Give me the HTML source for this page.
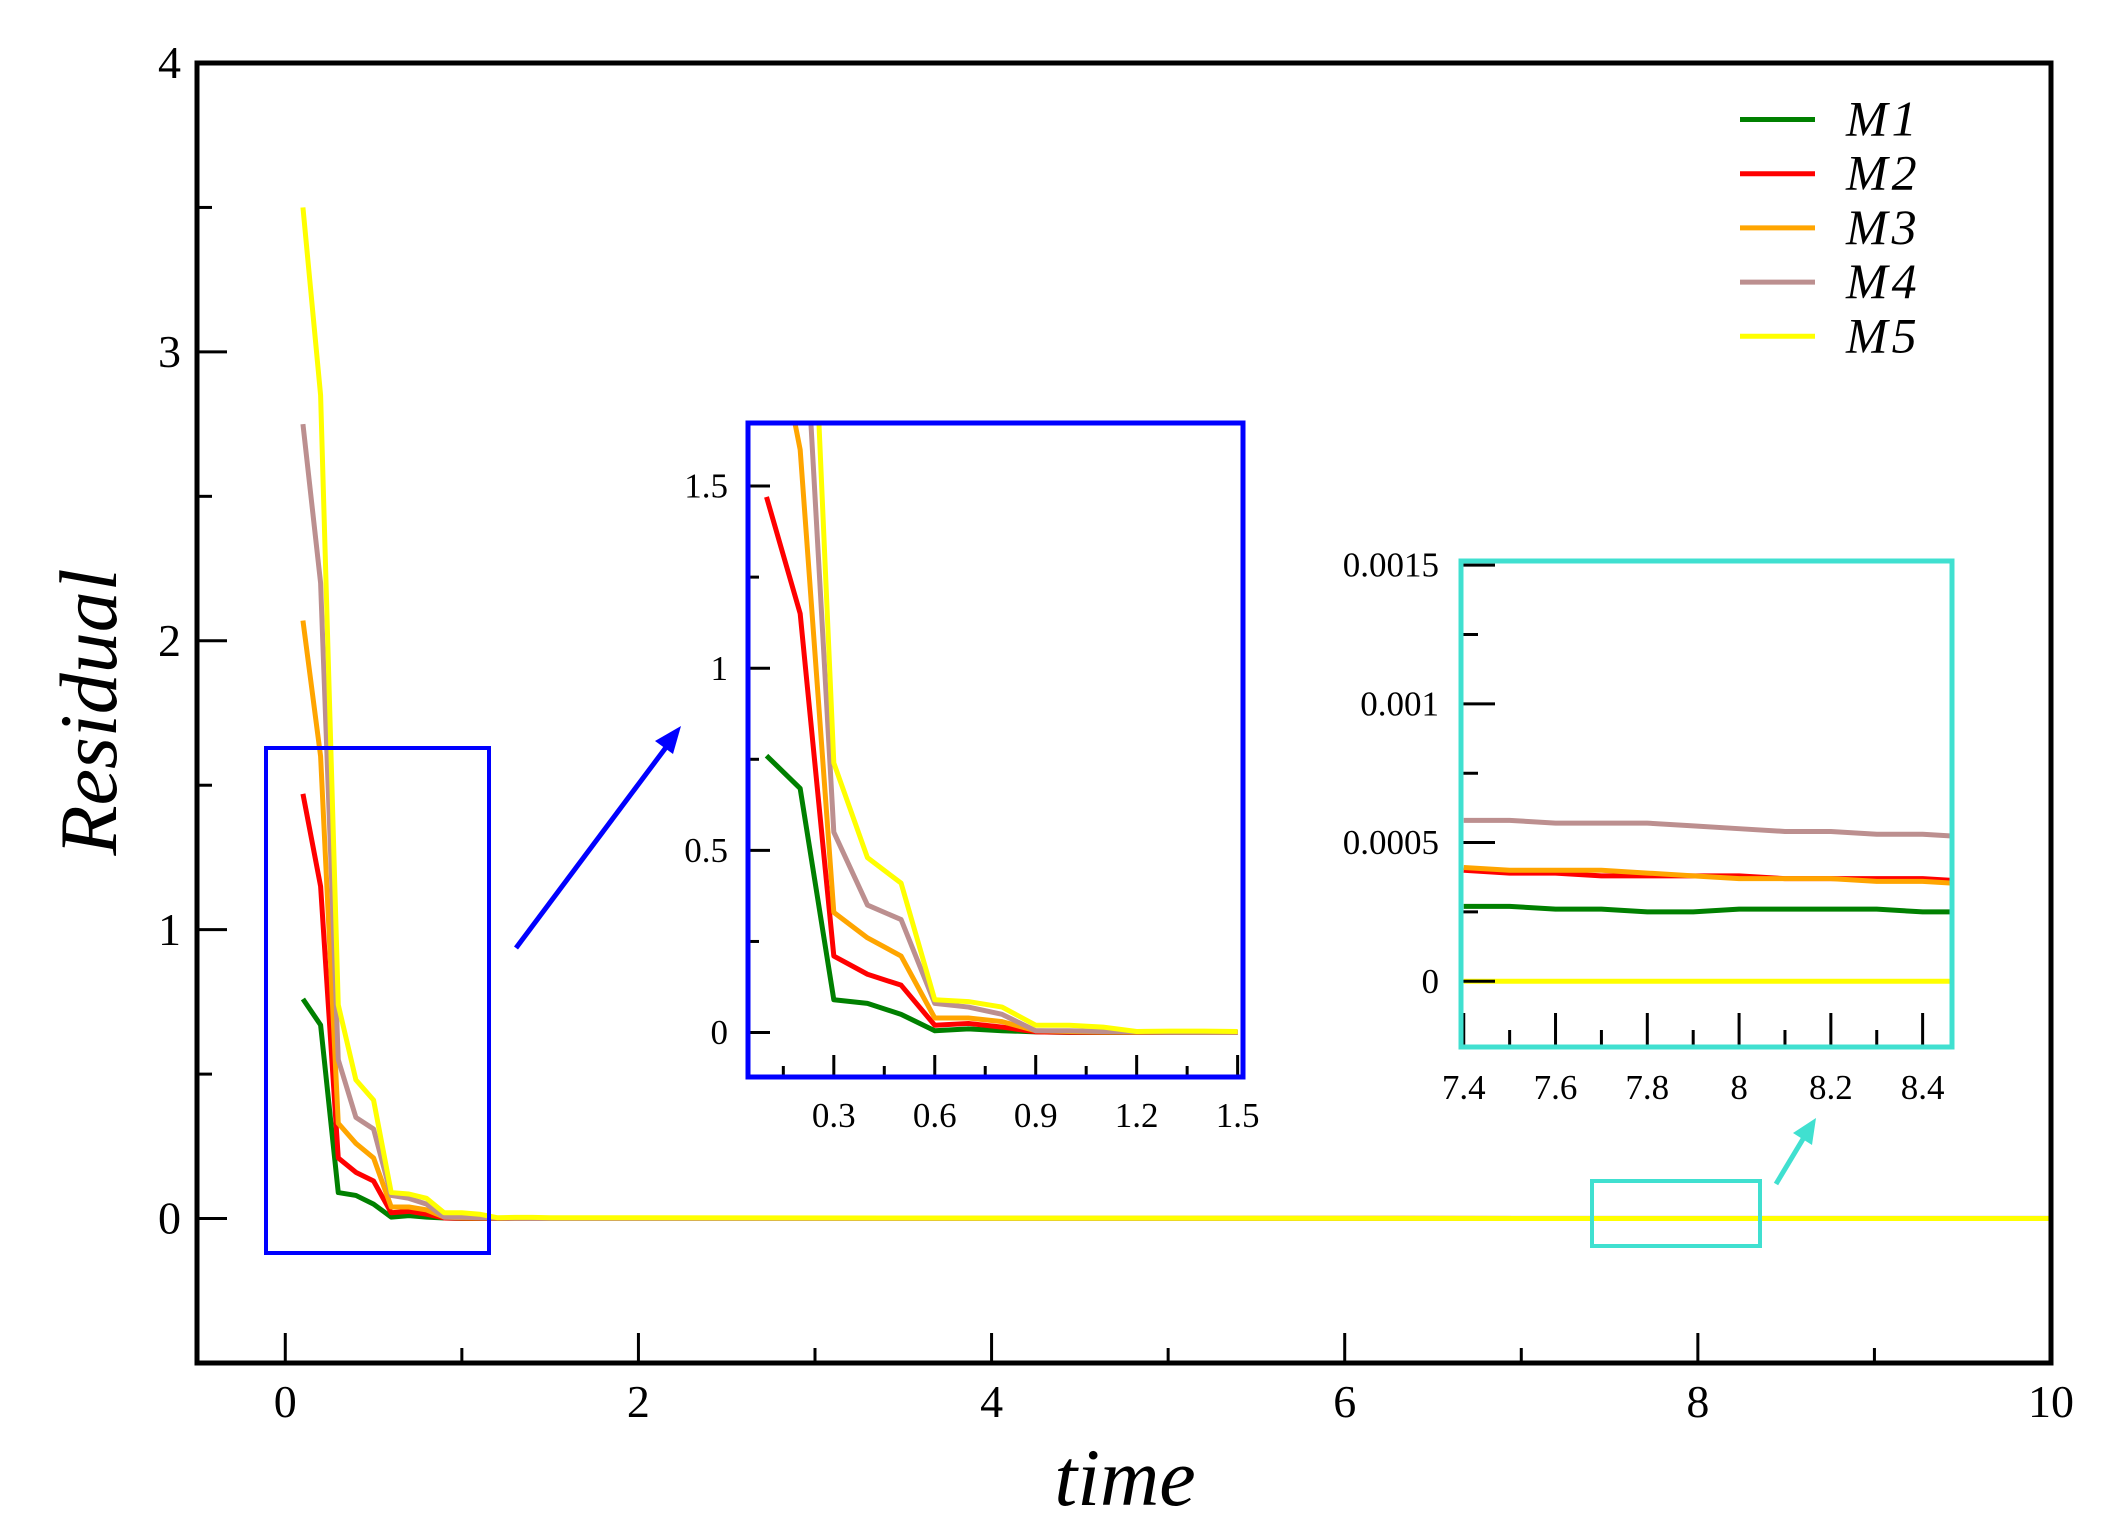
<!DOCTYPE html>
<html><head><meta charset="utf-8"><style>
html,body{margin:0;padding:0;background:#fff;}
svg{display:block;font-family:"Liberation Serif",serif;}
</style></head><body>
<svg id="chart" width="2104" height="1528" viewBox="0 0 2104 1528" xmlns="http://www.w3.org/2000/svg">
<defs>
<clipPath id="clipMain"><rect x="197" y="63" width="1854" height="1300"/></clipPath>
<clipPath id="clipIn1"><rect x="748" y="423" width="495" height="654"/></clipPath>
<clipPath id="clipIn2"><rect x="1461" y="561" width="491" height="486"/></clipPath>
</defs>
</svg>
<script>
// ---- data ----
const times = [0.1,0.2,0.3,0.4,0.5,0.6,0.7,0.8,0.9,1.0,1.1,1.2,1.3,1.4,1.5,
  7.4,7.5,7.6,7.7,7.8,7.9,8.0,8.1,8.2,8.3,8.4,8.5,10];
const seriesNames = ["M1","M2","M3","M4","M5"];
const seriesColors = ["#008000","#ff0000","#ffa500","#bc8f8f","#ffff00"];
const m1 = [0.76,0.67,0.09,0.08,0.05,0.005,0.01,0.005,0.002,0.0005,0.0004,0.0003,0.0003,0.0003,0.0003,
  0.00027,0.00027,0.00026,0.00026,0.00025,0.00025,0.00026,0.00026,0.00026,0.00026,0.00025,0.00025,0.00022];
const m2 = [1.47,1.15,0.21,0.16,0.13,0.02,0.025,0.015,0.002,0.001,0.0008,0.0006,0.0005,0.0005,0.0005,
  0.0004,0.00039,0.00039,0.00038,0.00038,0.00038,0.00038,0.00037,0.00037,0.00037,0.00037,0.00036,0.0003];
const m3 = [2.07,1.6,0.33,0.26,0.21,0.04,0.04,0.03,0.005,0.003,0.002,0.001,0.0008,0.0006,0.0005,
  0.00041,0.0004,0.0004,0.0004,0.00039,0.00038,0.00037,0.00037,0.00037,0.00036,0.00036,0.00035,0.0003];
const m4 = [2.75,2.2,0.55,0.35,0.31,0.08,0.07,0.05,0.005,0.005,0.003,0.002,0.001,0.0008,0.0007,
  0.00058,0.00058,0.00057,0.00057,0.00057,0.00056,0.00055,0.00054,0.00054,0.00053,0.00053,0.00052,0.0005];
const m5 = [3.5,2.85,0.74,0.48,0.41,0.09,0.085,0.07,0.02,0.02,0.015,0.003,0.004,0.004,0.003,
  0,0,0,0,0,0,0,0,0,0,0,0,0];
const seriesValues = [m1,m2,m3,m4,m5];
const mainXTicks = [0,2,4,6,8,10];
const mainYTicks = [0,1,2,3,4];
const in1XTicks = [0.3,0.6,0.9,1.2,1.5];
const in1XTickLabels = ["0.3","0.6","0.9","1.2","1.5"];
const in1YTicks = [0,0.5,1,1.5];
const in1YTickLabels = ["0","0.5","1","1.5"];
const in2XTicks = [7.4,7.6,7.8,8.0,8.2,8.4];
const in2XTickLabels = ["7.4","7.6","7.8","8","8.2","8.4"];
const in2YTicks = [0,0.0005,0.001,0.0015];
const in2YTickLabels = ["0","0.0005","0.001","0.0015"];

const svg = document.getElementById('chart');
const NS = "http://www.w3.org/2000/svg";
function mk(tag, attrs, parent){
  const e = document.createElementNS(NS, tag);
  for (const k in attrs) e.setAttribute(k, attrs[k]);
  (parent||svg).appendChild(e);
  return e;
}
function scale(d0,d1,r0,r1){ return v => r0 + (v-d0)*(r1-r0)/(d1-d0); }

function drawPanel(o){
  const sx = scale(o.xd[0],o.xd[1],o.x0,o.x1);
  const sy = scale(o.yd[0],o.yd[1],o.y1,o.y0);
  const g = mk('g',{});
  
  
  const lg = mk('g',{'clip-path':'url(#'+o.clip+')'}, g);
  seriesValues.forEach((vals,i)=>{
    let d='';
    times.forEach((t,j)=>{ if(o.filter(t)) d += (d?'L':'M') + sx(t).toFixed(2)+','+sy(vals[j]).toFixed(2); });
    const p = mk('path',{d:d,fill:'none',stroke:seriesColors[i],'stroke-width':o.lw,'stroke-linejoin':'round'}, lg);
    
    
  });
  o.xMajor.forEach((v,k)=>{
    const x=sx(v);
    mk('line',{x1:x,x2:x,y1:o.y1,y2:o.y1-o.tl,stroke:'#000','stroke-width':o.tw},g);
    const t = mk('text',{x:x,y:o.y1+o.xlOff,'text-anchor':'middle','font-size':o.fs},g);
    t.textContent = o.xLabels[k];
    
    
  });
  o.xMinor.forEach(v=>{ const x=sx(v); mk('line',{x1:x,x2:x,y1:o.y1,y2:o.y1-o.tl/2,stroke:'#000','stroke-width':o.tw},g); });
  o.yMajor.forEach((v,k)=>{
    const y=sy(v);
    mk('line',{x1:o.x0,x2:o.x0+o.tl,y1:y,y2:y,stroke:'#000','stroke-width':o.tw},g);
    const t = mk('text',{x:o.x0-o.ylOff,y:y+o.fs*0.33,'text-anchor':'end','font-size':o.fs},g);
    t.textContent = o.yLabels[k];
    
    
  });
  o.yMinor.forEach(v=>{ const y=sy(v); mk('line',{x1:o.x0,x2:o.x0+o.tl/2,y1:y,y2:y,stroke:'#000','stroke-width':o.tw},g); });
  const fr = mk('rect',{x:o.x0,y:o.y0,width:o.x1-o.x0,height:o.y1-o.y0,fill:'none',stroke:o.frame,'stroke-width':o.fw},g);
  
  
  return {sx,sy};
}

// main
drawPanel({name:'main-plot',clip:'clipMain',x0:197,x1:2051,y0:63,y1:1363,
  xd:[-0.5,10],yd:[-0.5,4],lw:5,tw:3,tl:30,fs:46,xlOff:54,ylOff:16,frame:'#000',fw:5,
  filter:t=>true,
  xMajor:mainXTicks,xLabels:mainXTicks.map(String),xMinor:[1,3,5,7,9],
  yMajor:mainYTicks,yLabels:mainYTicks.map(String),yMinor:[0.5,1.5,2.5,3.5]});

mk('rect',{x:266,y:748,width:223,height:505,fill:'none',stroke:'#0000ff','stroke-width':4,});
mk('rect',{x:1592,y:1181,width:168,height:65,fill:'none',stroke:'#40e0d0','stroke-width':4,});
mk('line',{x1:516,y1:948,x2:670,y2:742,stroke:'#0000ff','stroke-width':5,});
mk('polygon',{points:'681,726 655,741 673,754',fill:'#0000ff',});
mk('line',{x1:1776,y1:1184,x2:1806,y2:1134,stroke:'#40e0d0','stroke-width':5,});
mk('polygon',{points:'1816,1118 1793,1133 1812,1145',fill:'#40e0d0',});

// inset 1
mk('rect',{x:748,y:423,width:495,height:654,fill:'#fff'});
drawPanel({name:'inset-early',clip:'clipIn1',x0:748,x1:1243,y0:423,y1:1077,
  xd:[0.045,1.516],yd:[-0.122,1.673],lw:5,tw:3,tl:22,fs:35,xlOff:50,ylOff:20,frame:'#0000ff',fw:5,
  filter:t=>t<=1.6,
  xMajor:in1XTicks,xLabels:in1XTickLabels,xMinor:[0.15,0.45,0.75,1.05,1.35],
  yMajor:in1YTicks,yLabels:in1YTickLabels,yMinor:[0.25,0.75,1.25]});

// inset 2
mk('rect',{x:1461,y:561,width:491,height:486,fill:'#fff'});
drawPanel({name:'inset-late',clip:'clipIn2',x0:1461,x1:1952,y0:561,y1:1047,
  xd:[7.394,8.464],yd:[-0.000237,0.001515],lw:5,tw:3,tl:34,fs:35,xlOff:52,ylOff:22,frame:'#40e0d0',fw:5,
  filter:t=>t>=7.3&&t<=8.6,
  xMajor:in2XTicks,xLabels:in2XTickLabels,xMinor:[7.5,7.7,7.9,8.1,8.3],
  yMajor:in2YTicks,yLabels:in2YTickLabels,yMinor:[0.00025,0.00075,0.00125]});

// legend
const leg = mk('g',{});


seriesNames.forEach((n,i)=>{
  const y = 119.5 + i*54.2;
  const l = mk('line',{x1:1740,x2:1815,y1:y,y2:y,stroke:seriesColors[i],'stroke-width':5},leg);
  
  
  const t = mk('text',{x:1846,y:y+16,'font-size':50,'font-style':'italic','letter-spacing':4},leg);
  t.textContent = n;
  
  
});

// axis titles
const xt = mk('text',{x:1125,y:1505,'text-anchor':'middle','font-size':82,'font-style':'italic'});
xt.textContent = 'time';


const yt = mk('text',{x:0,y:0,'text-anchor':'middle','font-size':82,'font-style':'italic',transform:'translate(116,712) rotate(-90)'});
yt.textContent = 'Residual';


</script>
</body></html>
